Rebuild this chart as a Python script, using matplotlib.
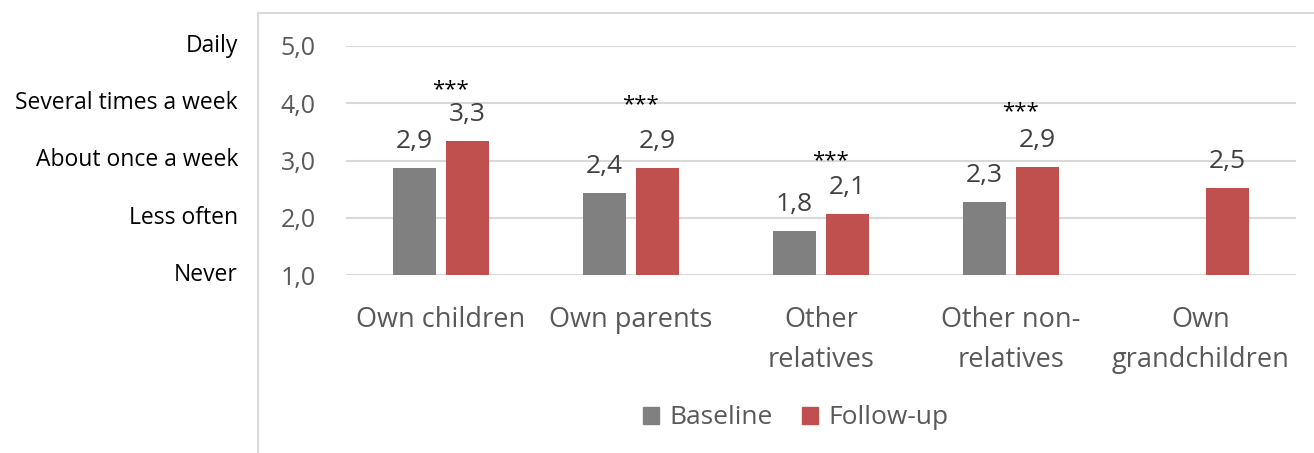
import numpy as np
import matplotlib.pyplot as plt
from matplotlib.patches import Patch
from matplotlib.lines import Line2D

plt.rcParams['font.family'] = ['Open Sans', 'DejaVu Sans']

# data
categories = ['Own children', 'Own parents', 'Other\nrelatives',
              'Other non-\nrelatives', 'Own\ngrandchildren']
baseline = [2.87, 2.43, 1.77, 2.27, np.nan]
follow_up = [3.34, 2.87, 2.06, 2.89, 2.52]
stars = ['***', '***', '***', '***', '']
star_y = [4.24, 3.97, 2.99, 3.86, np.nan]
scale_labels = ['Never', 'Less often', 'About once a week',
                'Several times a week', 'Daily']
scale_values = [1, 2, 3, 4, 5]

GRAY = '#808080'
RED = '#C0504D'
GRID = '#D9D9D9'
TXT = '#404040'

fig = plt.figure(figsize=(13.14, 4.53), dpi=100)
ax = fig.add_axes([346 / 1314, 1 - 275 / 453, 950 / 1314, 229 / 453])

x = np.arange(len(categories))
w = 0.226
off = 0.14
b1 = ax.bar(x - off, baseline, w, bottom=0, color=GRAY, zorder=3)
b2 = ax.bar(x + off, follow_up, w, bottom=0, color=RED, zorder=3)

ax.set_xlim(-0.5, len(categories) - 0.5)
ax.set_ylim(1, 5)
ax.set_yticks(scale_values)
ax.set_yticklabels([f'{v:.1f}'.replace('.', ',') for v in scale_values])
ax.set_xticks(x)
ax.set_xticklabels(categories, linespacing=1.6)
ax.tick_params(axis='y', length=0, pad=22, labelsize=18, labelcolor='#595959')
ax.tick_params(axis='x', length=0, pad=22, labelsize=19.5, labelcolor='#595959')
ax.grid(axis='y', color=GRID, linewidth=1.5, zorder=0)
for s in ax.spines.values():
    s.set_visible(False)

# value labels
for xs, vals in ((x - off, baseline), (x + off, follow_up)):
    for xi, v in zip(xs, vals):
        if np.isnan(v):
            continue
        ax.annotate(f'{v:.1f}'.replace('.', ','), (xi, v),
                    xytext=(0, 14.5), textcoords='offset points',
                    ha='center', va='baseline', fontsize=19, color=TXT,
                    annotation_clip=False)

# significance markers
for xi, s, yy in zip(x + off - 0.09, stars, star_y):
    if s:
        ax.text(xi, yy, s, ha='center', va='center', fontsize=16,
                color='black', clip_on=False)

# frequency scale on the left
tr = ax.get_yaxis_transform()
for lab, v in zip(scale_labels, scale_values):
    ax.text(-(346 - 238) / 950, v, lab, transform=tr, ha='right', va='center',
            fontsize=16.5, color='black')

# chart area border
fig.add_artist(Line2D([258 / 1314, 258 / 1314], [0, 1 - 13 / 453],
                      transform=fig.transFigure, color=GRID, lw=1.5))
fig.add_artist(Line2D([258 / 1314, 1], [1 - 13 / 453, 1 - 13 / 453],
                      transform=fig.transFigure, color=GRID, lw=1.5))

handles = [Patch(color=GRAY, label='Baseline'), Patch(color=RED, label='Follow-up')]
leg = fig.legend(handles=handles, loc='center', bbox_to_anchor=(796 / 1314, 1 - 418 / 453),
                 ncol=2, frameon=False, fontsize=19, handlelength=0.6,
                 handleheight=0.6, handletextpad=0.4, columnspacing=1.1)
for t in leg.get_texts():
    t.set_color('#595959')

fig.savefig('out.png', dpi=100)
